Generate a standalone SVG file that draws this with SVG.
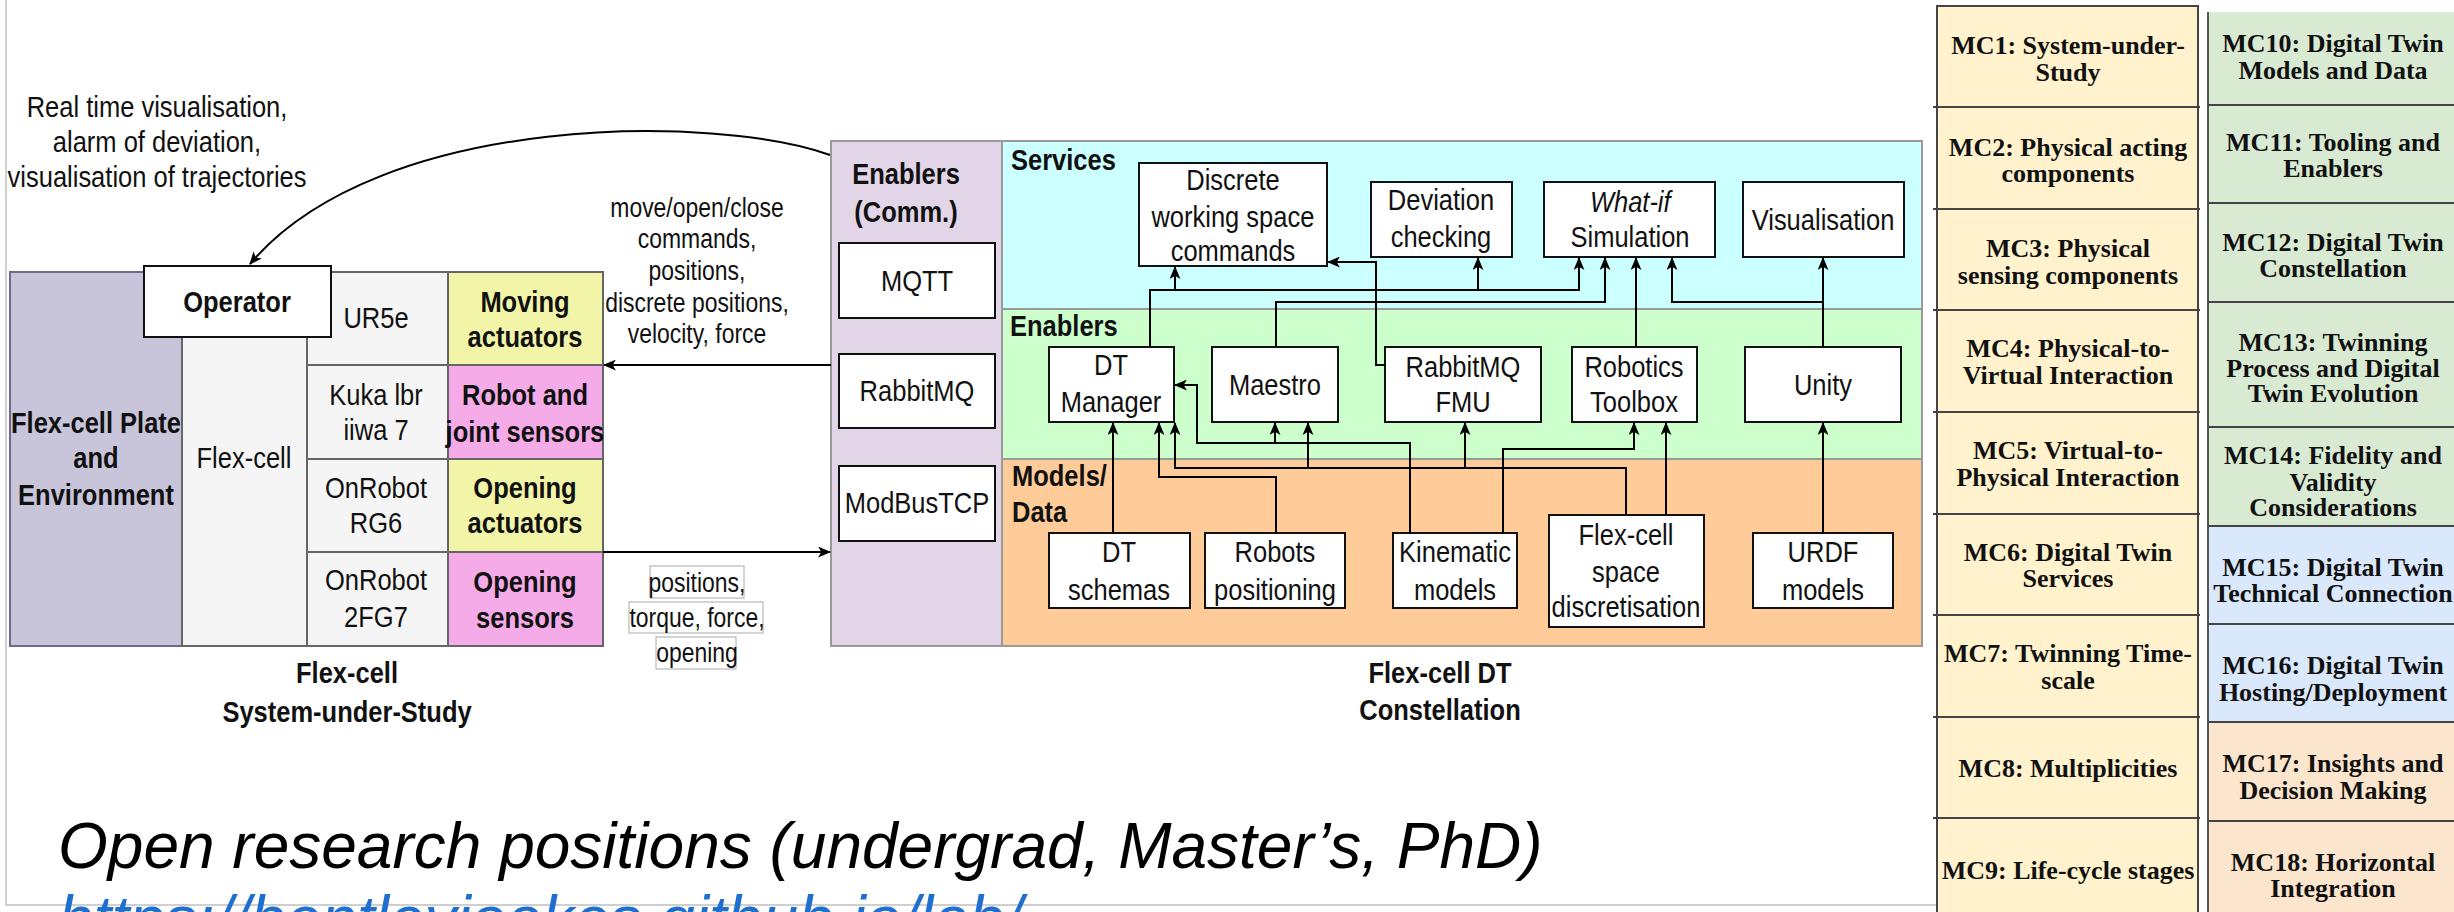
<svg xmlns="http://www.w3.org/2000/svg" width="2454" height="912" viewBox="0 0 2454 912">
<defs>
<marker id="arr" viewBox="0 0 12 10" refX="11" refY="5" markerWidth="13" markerHeight="11" markerUnits="userSpaceOnUse" orient="auto"><path d="M0,0 L12,5 L0,10 L3,5 z" fill="#000"/></marker>
<style>
.t{font-family:'Liberation Sans',Arial,sans-serif;font-size:30px;text-anchor:middle;fill:#111;transform-box:fill-box;transform-origin:50% 50%;transform:scaleX(0.85)}
.b{font-weight:bold}
.s{font-size:27px}
.l{text-anchor:start;transform-origin:0% 50%}
.box{fill:#fff;stroke:#111;stroke-width:2}
.cell{fill:#f5f5f5;stroke:#666;stroke-width:2}
.c{fill:none;stroke:#000;stroke-width:2;marker-end:url(#arr)}
.lb{fill:#fff;stroke:#aaa;stroke-width:1}
.mc{font-family:'Liberation Serif','Times New Roman',serif;font-weight:bold;font-size:26px;text-anchor:middle;fill:#111}
.mcl{stroke:#444;stroke-width:2}
</style>
</defs>
<rect width="2454" height="912" fill="#fff"/>
<path d="M6,0 V905 H1936" fill="none" stroke="#cfcfcf" stroke-width="2"/>

<g id="flexcell-sus">
<rect x="10" y="272" width="172" height="374" fill="#c8c5db" stroke="#6d6a8c" stroke-width="2"/>
<rect x="182" y="272" width="125" height="374" class="cell"/>
<rect x="307" y="272" width="141" height="93" class="cell"/>
<rect x="307" y="365" width="141" height="94" class="cell"/>
<rect x="307" y="459" width="141" height="93" class="cell"/>
<rect x="307" y="552" width="141" height="94" class="cell"/>
<rect x="448" y="272" width="155" height="93" fill="#f2f5a8" stroke="#666" stroke-width="2"/>
<rect x="448" y="365" width="155" height="94" fill="#f5abe8" stroke="#666" stroke-width="2"/>
<rect x="448" y="459" width="155" height="93" fill="#f2f5a8" stroke="#666" stroke-width="2"/>
<rect x="448" y="552" width="155" height="94" fill="#f5abe8" stroke="#666" stroke-width="2"/>
<text class="t b" x="96" y="433">Flex-cell Plate</text>
<text class="t b" x="96" y="468">and</text>
<text class="t b" x="96" y="505">Environment</text>
<text class="t" x="244" y="468">Flex-cell</text>
<text class="t" x="376" y="328">UR5e</text>
<text class="t" x="376" y="405">Kuka lbr</text>
<text class="t" x="376" y="440">iiwa 7</text>
<text class="t" x="376" y="498">OnRobot</text>
<text class="t" x="376" y="533">RG6</text>
<text class="t" x="376" y="590">OnRobot</text>
<text class="t" x="376" y="627">2FG7</text>
<text class="t b" x="525" y="312">Moving</text>
<text class="t b" x="525" y="347">actuators</text>
<text class="t b" x="525" y="405">Robot and</text>
<text class="t b" x="525" y="442">joint sensors</text>
<text class="t b" x="525" y="498">Opening</text>
<text class="t b" x="525" y="533">actuators</text>
<text class="t b" x="525" y="592">Opening</text>
<text class="t b" x="525" y="628">sensors</text>
<text class="t b" x="347" y="683">Flex-cell</text>
<text class="t b" x="347" y="722">System-under-Study</text>
</g>
<g id="operator">
<rect x="144" y="266" width="187" height="71" class="box"/>
<text class="t b" x="237" y="312">Operator</text>
</g>

<g id="enablers-comm">
<rect x="831" y="141" width="171" height="505" fill="#e1d5e7" stroke="#999" stroke-width="2"/>
<text class="t b" x="906" y="184">Enablers</text>
<text class="t b" x="906" y="222">(Comm.)</text>
</g>
<g id="mqtt"><rect x="839" y="243" width="156" height="75" class="box"/><text class="t" x="917" y="291">MQTT</text></g>
<g id="rabbitmq"><rect x="839" y="354" width="156" height="74" class="box"/><text class="t" x="917" y="401">RabbitMQ</text></g>
<g id="modbustcp"><rect x="839" y="466" width="156" height="75" class="box"/><text class="t" x="917" y="513">ModBusTCP</text></g>

<g id="layer-services"><rect x="1002" y="141" width="920" height="168" fill="#ccffff" stroke="#999" stroke-width="2"/><text class="t b l" x="1011" y="170">Services</text></g>
<g id="layer-enablers"><rect x="1002" y="309" width="920" height="150" fill="#ccffcc" stroke="#999" stroke-width="2"/><text class="t b l" x="1010" y="336">Enablers</text></g>
<g id="layer-models"><rect x="1002" y="459" width="920" height="187" fill="#ffcc99" stroke="#999" stroke-width="2"/><text class="t b l" x="1012" y="486">Models/</text><text class="t b l" x="1012" y="522">Data</text></g>

<g id="discrete"><rect x="1139" y="163" width="188" height="103" class="box"/><text class="t" x="1233" y="190">Discrete</text><text class="t" x="1233" y="227">working space</text><text class="t" x="1233" y="261">commands</text></g>
<g id="deviation"><rect x="1371" y="182" width="141" height="75" class="box"/><text class="t" x="1441" y="210">Deviation</text><text class="t" x="1441" y="247">checking</text></g>
<g id="whatif"><rect x="1544" y="182" width="171" height="75" class="box"/><text class="t" x="1630" y="212" font-style="italic">What-if</text><text class="t" x="1630" y="247">Simulation</text></g>
<g id="visualisation"><rect x="1743" y="182" width="161" height="75" class="box"/><text class="t" x="1823" y="230">Visualisation</text></g>

<g id="dtmanager"><rect x="1049" y="347" width="125" height="75" class="box"/><text class="t" x="1111" y="375">DT</text><text class="t" x="1111" y="412">Manager</text></g>
<g id="maestro"><rect x="1212" y="347" width="126" height="75" class="box"/><text class="t" x="1275" y="395">Maestro</text></g>
<g id="rabbitmqfmu"><rect x="1385" y="347" width="156" height="75" class="box"/><text class="t" x="1463" y="377">RabbitMQ</text><text class="t" x="1463" y="412">FMU</text></g>
<g id="robotics"><rect x="1572" y="347" width="125" height="75" class="box"/><text class="t" x="1634" y="377">Robotics</text><text class="t" x="1634" y="412">Toolbox</text></g>
<g id="unity"><rect x="1745" y="347" width="156" height="75" class="box"/><text class="t" x="1823" y="395">Unity</text></g>

<g id="dtschemas"><rect x="1049" y="533" width="141" height="75" class="box"/><text class="t" x="1119" y="562">DT</text><text class="t" x="1119" y="600">schemas</text></g>
<g id="robotspos"><rect x="1205" y="533" width="140" height="75" class="box"/><text class="t" x="1275" y="562">Robots</text><text class="t" x="1275" y="600">positioning</text></g>
<g id="kinematic"><rect x="1393" y="533" width="124" height="75" class="box"/><text class="t" x="1455" y="562">Kinematic</text><text class="t" x="1455" y="600">models</text></g>
<g id="flexspace"><rect x="1549" y="515" width="155" height="112" class="box"/><text class="t" x="1626" y="545">Flex-cell</text><text class="t" x="1626" y="582">space</text><text class="t" x="1626" y="617">discretisation</text></g>
<g id="urdf"><rect x="1753" y="533" width="140" height="75" class="box"/><text class="t" x="1823" y="562">URDF</text><text class="t" x="1823" y="600">models</text></g>

<g id="dt-label"><text class="t b" x="1440" y="683">Flex-cell DT</text><text class="t b" x="1440" y="720">Constellation</text></g>

<g id="connectors">
<path class="c" d="M830,155 C720,115 380,110 250,264"/>
<path class="c" d="M831,365 H604"/>
<path class="c" d="M603,552 H830"/>
<path class="c" d="M1150,347 V290 H1579 V258"/>
<path class="c" d="M1175,290 V267"/>
<path class="c" d="M1478,290 V258"/>
<path class="c" d="M1276,347 V302 H1605 V258"/>
<path class="c" d="M1385,365 H1376 V262 H1328"/>
<path class="c" d="M1636,347 V258"/>
<path class="c" d="M1823,347 V258"/>
<path class="c" d="M1823,302 H1672 V258"/>
<path class="c" d="M1113,533 V423"/>
<path class="c" d="M1276,533 V477 H1159 V423"/>
<path class="c" d="M1626,515 V468 H1175 V423"/>
<path class="c" d="M1308,468 V423"/>
<path class="c" d="M1465,468 V423"/>
<path class="c" d="M1410,533 V443 H1197 V385 H1175"/>
<path class="c" d="M1275,443 V423"/>
<path class="c" d="M1503,533 V449 H1634 V423"/>
<path class="c" d="M1666,515 V423"/>
<path class="c" d="M1823,533 V423"/>
</g>

<g id="labels">
<text class="t" x="157" y="117">Real time visualisation,</text>
<text class="t" x="157" y="152">alarm of deviation,</text>
<text class="t" x="157" y="187">visualisation of trajectories</text>
<text class="t s" x="697" y="217">move/open/close</text>
<text class="t s" x="697" y="248">commands,</text>
<text class="t s" x="697" y="280">positions,</text>
<text class="t s" x="697" y="312">discrete positions,</text>
<text class="t s" x="697" y="343">velocity, force</text>
<rect class="lb" x="650" y="566" width="94" height="32"/>
<rect class="lb" x="629" y="602" width="134" height="31"/>
<rect class="lb" x="656" y="637" width="80" height="32"/>
<text class="t s" x="697" y="592">positions,</text>
<text class="t s" x="697" y="627">torque, force,</text>
<text class="t s" x="697" y="662">opening</text>
</g>

<g id="footer">
<text x="58" y="868" font-family="'Liberation Sans',Arial,sans-serif" font-style="italic" font-size="64" fill="#000">Open research positions (undergrad, Master’s, PhD)</text>
<text x="58" y="941" font-family="'Liberation Sans',Arial,sans-serif" font-style="italic" font-size="64" fill="#1e6fd0">https://bentleyjoakes.github.io/lab/</text>
</g>

<g id="mc-col1">
<rect x="1937" y="6" width="261" height="920" fill="#fff2cc" stroke="#444" stroke-width="2"/>
<path class="mcl" d="M1933,107 H2200 M1933,209 H2200 M1933,310 H2200 M1933,412 H2200 M1933,514 H2200 M1933,615 H2200 M1933,717 H2200 M1933,818 H2200"/>
<text class="mc" x="2068" y="54">MC1: System-under-</text><text class="mc" x="2068" y="81">Study</text>
<text class="mc" x="2068" y="156">MC2: Physical acting</text><text class="mc" x="2068" y="182">components</text>
<text class="mc" x="2068" y="257">MC3: Physical</text><text class="mc" x="2068" y="284">sensing components</text>
<text class="mc" x="2068" y="357">MC4: Physical-to-</text><text class="mc" x="2068" y="384">Virtual Interaction</text>
<text class="mc" x="2068" y="459">MC5: Virtual-to-</text><text class="mc" x="2068" y="486">Physical Interaction</text>
<text class="mc" x="2068" y="561">MC6: Digital Twin</text><text class="mc" x="2068" y="587">Services</text>
<text class="mc" x="2068" y="662">MC7: Twinning Time-</text><text class="mc" x="2068" y="689">scale</text>
<text class="mc" x="2068" y="777">MC8: Multiplicities</text>
<text class="mc" x="2068" y="879">MC9: Life-cycle stages</text>
</g>
<g id="mc-col2">
<rect x="2208" y="12" width="260" height="415" fill="#d9ead3"/>
<rect x="2208" y="427" width="260" height="99" fill="#d9ead3"/>
<rect x="2208" y="526" width="260" height="196" fill="#dae8fc"/>
<rect x="2208" y="722" width="260" height="204" fill="#fce5cd"/>
<path d="M2208,12 V912" stroke="#555" stroke-width="2"/>
<path class="mcl" d="M2208,105 H2454 M2208,203 H2454 M2208,302 H2454 M2208,427 H2454 M2208,526 H2454 M2208,624 H2454 M2208,722 H2454 M2208,821 H2454"/>
<text class="mc" x="2333" y="52">MC10: Digital Twin</text><text class="mc" x="2333" y="79">Models and Data</text>
<text class="mc" x="2333" y="151">MC11: Tooling and</text><text class="mc" x="2333" y="177">Enablers</text>
<text class="mc" x="2333" y="251">MC12: Digital Twin</text><text class="mc" x="2333" y="277">Constellation</text>
<text class="mc" x="2333" y="351">MC13: Twinning</text><text class="mc" x="2333" y="377">Process and Digital</text><text class="mc" x="2333" y="402">Twin Evolution</text>
<text class="mc" x="2333" y="464">MC14: Fidelity and</text><text class="mc" x="2333" y="491">Validity</text><text class="mc" x="2333" y="516">Considerations</text>
<text class="mc" x="2333" y="576">MC15: Digital Twin</text><text class="mc" x="2333" y="602">Technical Connection</text>
<text class="mc" x="2333" y="674">MC16: Digital Twin</text><text class="mc" x="2333" y="701">Hosting/Deployment</text>
<text class="mc" x="2333" y="772">MC17: Insights and</text><text class="mc" x="2333" y="799">Decision Making</text>
<text class="mc" x="2333" y="871">MC18: Horizontal</text><text class="mc" x="2333" y="897">Integration</text>
</g>
</svg>
